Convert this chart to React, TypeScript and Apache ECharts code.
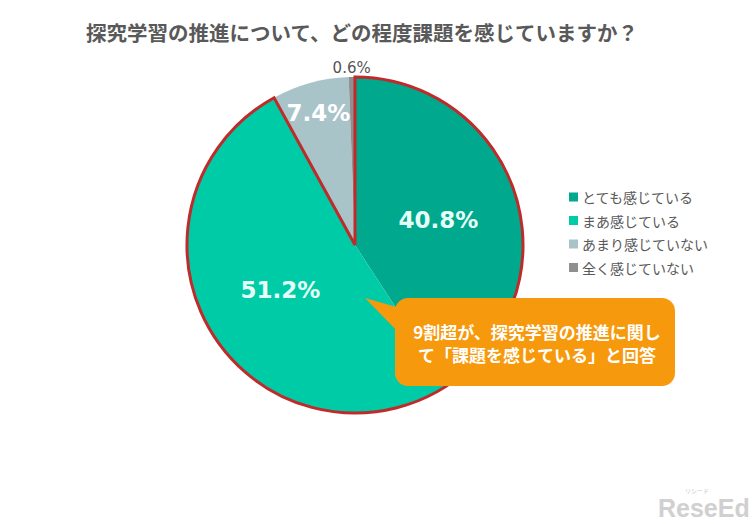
import React, { useEffect, useRef } from "react";
import * as echarts from "echarts";

const titleText = "探究学習の推進について、どの程度課題を感じていますか？";
const categories = ["とても感じている", "まあ感じている", "あまり感じていない", "全く感じていない"];
const values = [40.8, 51.2, 7.4, 0.6];
const colors = ["#00a88e", "#00cba7", "#a8c4c9", "#8f8f8f"];
const outlineGroups = [92, 8];
const calloutLines = ["9割超が、探究学習の推進に関し", "て「課題を感じている」と回答"];

const JP = '"Noto Sans CJK JP", "Noto Sans", sans-serif';
const NUM = '"DejaVu Sans", Verdana, sans-serif';

export default function App() {
  const ref = useRef<HTMLDivElement>(null);
  useEffect(() => {
    if (!ref.current) return;
    const chart = echarts.init(ref.current, undefined, { renderer: "svg" });
    const center = [355, 245];
    const R = 168;
    const baseData = (showIdx: number, labelOpt: any, transparent: boolean) =>
      categories.map((name, i) => ({
        name,
        value: values[i],
        itemStyle: { color: transparent ? "rgba(0,0,0,0)" : colors[i] },
        label: i === showIdx || (showIdx === -2 && i < 2) ? labelOpt : { show: false },
      }));
    const bigLabel = {
      show: true,
      position: "inside",
      formatter: (p: any) => p.value.toFixed(1) + "%",
      color: "#e6fff8",
      fontFamily: NUM,
      fontWeight: "bold",
      fontSize: 23,
    };
    chart.setOption({
      animation: false,
      backgroundColor: "#ffffff",
      title: {
        text: titleText,
        left: 357,
        textAlign: "center",
        top: 17,
        textStyle: { fontFamily: JP, fontSize: 20.5, fontWeight: "bold", color: "#595959" },
      },
      legend: {
        data: categories,
        orient: "vertical",
        left: 569,
        top: 190,
        padding: 0,
        itemWidth: 9,
        itemHeight: 9,
        itemGap: 9.5,
        icon: "rect",
        textStyle: { fontFamily: JP, fontSize: 14, color: "#595959", lineHeight: 14, padding: [0, 0, 0, -1] },
      },
      series: [
        {
          type: "pie",
          name: "main",
          center,
          radius: R,
          startAngle: 90,
          clockwise: true,
          silent: true,
          labelLine: { show: false },
          itemStyle: { borderWidth: 0 },
          data: baseData(-2, bigLabel, false),
        },
        {
          type: "pie",
          name: "label74",
          center,
          radius: [100, R],
          startAngle: 90,
          silent: true,
          labelLine: { show: false },
          itemStyle: { borderWidth: 0 },
          data: baseData(2, { ...bigLabel, color: "#ffffff" }, true),
        },
        {
          type: "pie",
          name: "label06",
          center,
          radius: [R, R + 13],
          startAngle: 90,
          silent: true,
          labelLine: { show: false },
          itemStyle: { borderWidth: 0 },
          data: baseData(
            3,
            {
              show: true,
              position: "inside",
              formatter: (p: any) => p.value.toFixed(1) + "%",
              color: "#555555",
              fontFamily: NUM,
              fontSize: 15,
            },
            true
          ),
        },
        {
          type: "pie",
          name: "outline",
          center,
          radius: R,
          startAngle: 90,
          silent: true,
          label: { show: false },
          labelLine: { show: false },
          data: outlineGroups.map((v, i) => ({
            name: "group" + i,
            value: v,
            itemStyle:
              i === 0
                ? { color: "rgba(0,0,0,0)", borderColor: "#bf2a2a", borderWidth: 3, borderJoin: "miter" }
                : { color: "rgba(0,0,0,0)", borderWidth: 0 },
          })),
        },
      ],
      graphic: [
        {
          type: "polygon",
          z: 100,
          shape: { points: [[365, 298], [400, 308], [400, 334]] },
          style: { fill: "#f6990d" },
          silent: true,
        },
        {
          type: "rect",
          z: 100,
          shape: { x: 395, y: 298, width: 280, height: 88, r: 13 },
          style: { fill: "#f6990d" },
          silent: true,
        },
        {
          type: "text",
          z: 101,
          x: 537,
          y: 343,
          style: {
            text: calloutLines.join("\n"),
            fill: "#ffffff",
            fontFamily: JP,
            fontSize: 17,
            fontWeight: "bold",
            lineHeight: 23,
            align: "center",
            verticalAlign: "middle",
          },
          silent: true,
        },
        {
          type: "text",
          z: 100,
          x: 697,
          y: 487,
          style: { text: "リシード", fill: "#c8c8c8", fontFamily: JP, fontSize: 6, align: "center" },
          silent: true,
        },
        {
          type: "text",
          z: 100,
          x: 658,
          y: 495,
          style: {
            text: "ReseEd",
            fill: "#d0d0d0",
            fontFamily: '"Liberation Sans", Arial, sans-serif',
            fontSize: 25,
            fontWeight: "bold",
          },
          silent: true,
        },
      ],
    });
    return () => chart.dispose();
  }, []);
  return (
    <div
      ref={ref}
      style={{ position: "fixed", left: 0, top: 0, width: 752, height: 524, background: "#fff" }}
    />
  );
}
